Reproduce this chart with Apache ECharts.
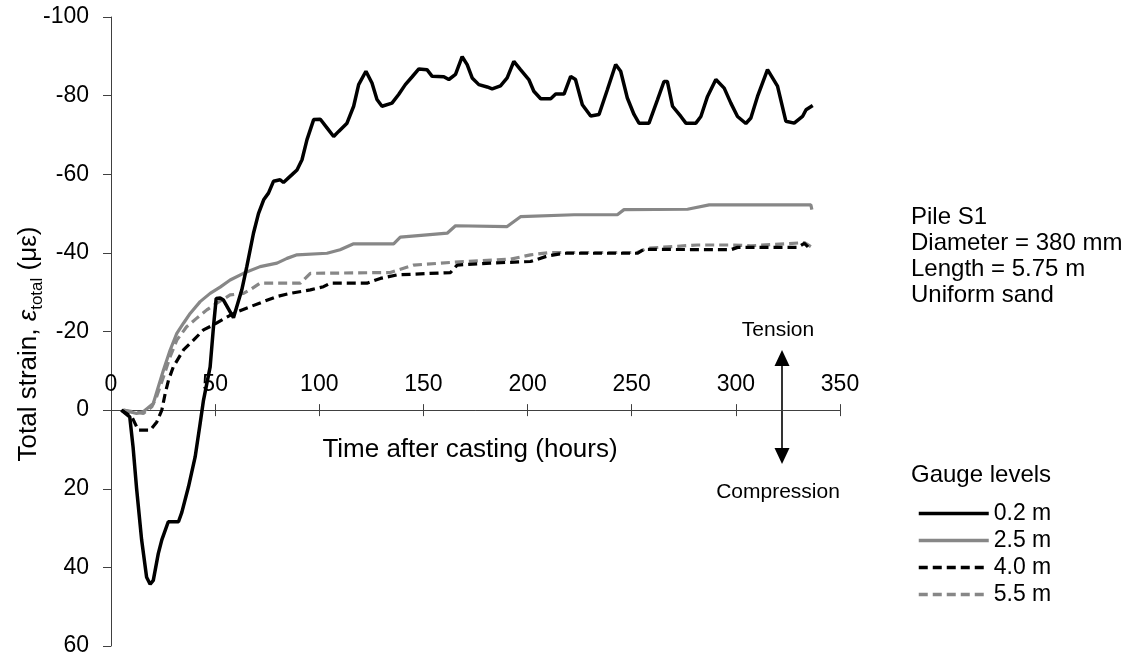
<!DOCTYPE html>
<html>
<head>
<meta charset="utf-8">
<script src="https://cdn.jsdelivr.net/npm/echarts@6/dist/echarts.min.js"></script>
<style>
html,body{margin:0;padding:0;background:#fff;}
#chart{width:1131px;height:659px;}
</style>
</head>
<body>
<div id="chart"></div>
<script>
// ---- data (time in hours, total strain in microstrain; negative = tension) ----
const seriesNames = ['0.2 m', '2.5 m', '4.0 m', '5.5 m'];
const xTicks = [0, 50, 100, 150, 200, 250, 300, 350];
const yTicks = [-100, -80, -60, -40, -20, 0, 20, 40, 60];

const gauge02 = [
[5,0],[9,1.7],[10.6,9.4],[12.3,20],[14.7,33],[17.1,42.5],[18.8,44.3],[20.3,43.3],[22.7,36.5],[24.4,33],
[27.5,28.4],[32.4,28.4],[34,26],[37.2,19.5],[40.4,11.9],[42.8,3.4],[44.4,-2.5],[47.6,-11],[49.2,-21.2],[50.5,-28.4],
[52.4,-28.5],[54,-28],[57.2,-25],[58.8,-23.5],[62.8,-30.6],[65.2,-36.5],[68.4,-45],[70.8,-50],[73.3,-53.5],[75.6,-55.2],
[78,-58.2],[81.2,-58.6],[82.8,-57.9],[86.9,-59.9],[89.3,-61.1],[91.7,-63.7],[94.1,-68.8],[97.3,-73.9],[100.5,-74],[103.7,-71.8],
[106.9,-69.6],[109.3,-70.9],[113.3,-73],[116.5,-77.3],[118.9,-82.8],[122.4,-86.2],[125.3,-83.2],[127.7,-79],[130.1,-77.3],[134.9,-78.1],
[138.1,-80.3],[141.3,-82.8],[144.6,-84.8],[147.8,-86.8],[151.7,-86.6],[154.2,-84.9],[159.8,-84.8],[162.2,-84.1],[165.4,-85.4],[168.6,-89.9],
[171,-87.9],[173.4,-84.5],[176.6,-82.8],[180.6,-82.2],[183,-81.7],[187,-82.5],[190.2,-84.5],[193.4,-88.7],[196.6,-86.6],[200.6,-84.1],
[203,-81.1],[206.3,-79.2],[211.1,-79.2],[213.5,-80.4],[217.5,-80.4],[220.7,-84.9],[223,-84.1],[226.3,-77.7],[230.3,-74.8],[234.3,-75.2],
[238.3,-81.5],[242.3,-87.9],[244.7,-86.2],[247.9,-79.4],[251.1,-75.2],[253.5,-73],[258.3,-73],[262.4,-79],[265.5,-83.6],[267.1,-83.6],
[269.6,-77.3],[273.6,-74.7],[276,-73],[280.8,-73],[283.2,-74.7],[286.4,-79.8],[290.4,-84.1],[294.4,-81.9],[297.6,-78.1],[300.8,-74.7],
[304.8,-72.9],[307.2,-74.3],[310.4,-79.8],[315.2,-86.6],[320,-82.4],[324,-73.5],[328,-73],[332,-74.7],[333.7,-76.4],[336.9,-77.5]
];
const gauge25 = [
[5.9,0],[12.3,0.85],[15.5,0.4],[20.3,-1.7],[22.7,-5.9],[25.2,-10.2],[28.4,-15.3],[31.6,-19.5],[34.8,-22.1],[38,-24.6],
[42.8,-27.6],[47.6,-29.7],[52.4,-31.3],[57.2,-33.1],[63.6,-34.8],[71.6,-36.5],[79.7,-37.4],[84.5,-38.6],[89.3,-39.5],[103.7,-39.9],
[110,-40.8],[116.5,-42.3],[135.7,-42.3],[138.9,-44],[151.7,-44.6],[161.4,-45],[165.4,-46.9],[190.2,-46.7],[196.6,-49.2],[222.3,-49.7],
[243.1,-49.7],[246.3,-51],[276.8,-51.1],[287.2,-52.2],[336,-52.2],[336.5,-51]
];
const gauge40 = [
[5,0],[10,1.7],[13.1,5.1],[18.8,5.1],[22,3],[24.4,0],[26,-4.2],[27.6,-7.6],[29.9,-11],[34.8,-15.3],
[39.6,-17.8],[44.4,-20.4],[49.2,-21.7],[54.8,-23.4],[60.4,-25],[66.8,-26.3],[73.2,-27.6],[79.7,-28.9],[86.1,-29.7],[95.7,-30.6],
[102,-31.4],[105.3,-32.3],[122.9,-32.3],[129.3,-33.5],[137.3,-34.4],[163,-35],[166.2,-36.9],[182.2,-37.4],[201.4,-37.8],[209.5,-39.2],
[217.5,-39.9],[252.7,-39.9],[255.9,-40.9],[297.6,-40.8],[300.8,-41.4],[329.7,-41.4],[332.9,-42.4],[336,-40.8]
];
const gauge55 = [
[5.9,0],[15.5,0.85],[19.6,-0.85],[21.9,-3.4],[25.2,-8.5],[28.4,-13.6],[31.6,-17.8],[36.3,-21.2],[41.2,-23.4],[46,-25.5],
[50.8,-27.2],[57.2,-29.3],[63.6,-29.7],[66.8,-30.6],[71.6,-32.3],[90.9,-32.3],[95.7,-34.8],[134.1,-35],[145.3,-36.9],[169.4,-37.8],
[191.8,-38.4],[201.4,-39.5],[211.1,-40.1],[252.7,-40.1],[257.5,-41.2],[281.6,-42],[297.6,-42],[307.2,-41.8],[332.9,-42.6],[336,-41.6]
];

const FONT = '"Liberation Sans", Arial, Helvetica, sans-serif';
const AX = '#404040';
const GRAY = '#878787';

// plot area layout
const PLOT_LEFT = 111, PLOT_RIGHT = 291, PLOT_TOP = 17, PLOT_H = 629;
const yMin = yTicks[0], yMax = yTicks[yTicks.length - 1];
// pixel row of the zero line (where the time axis sits) from the y scale
const zeroY = PLOT_TOP + PLOT_H * (0 - yMin) / (yMax - yMin);

const chart = echarts.init(document.getElementById('chart'), null, {renderer: 'canvas'});

const xBase = {
  type: 'value', min: xTicks[0], max: xTicks[xTicks.length - 1], interval: xTicks[1] - xTicks[0],
  splitLine: {show: false},
  axisLine: {show: true, onZero: false, lineStyle: {color: AX, width: 1}},
  axisTick: {show: true, length: 6, lineStyle: {color: AX, width: 1}}
};

function lineSeries(name, data, color, dashed, z, width) {
  return {
    name: name, type: 'line', data: data, xAxisIndex: 0, yAxisIndex: 0,
    symbol: 'none', showSymbol: false, smooth: false, z: z,
    lineStyle: {color: color, width: width, type: dashed ? [9, 5] : 'solid'},
    itemStyle: {color: color},
    emphasis: {disabled: true},
    animation: false
  };
}

chart.setOption({
  backgroundColor: '#ffffff',
  animation: false,
  grid: [
    {left: PLOT_LEFT, right: PLOT_RIGHT, top: PLOT_TOP, height: PLOT_H, containLabel: false, outerBoundsMode: 'none'},
    {left: PLOT_LEFT, right: PLOT_RIGHT, top: zeroY, height: 50, containLabel: false, outerBoundsMode: 'none'}
  ],
  xAxis: [
    Object.assign({}, xBase, {gridIndex: 0, position: 'bottom',
      axisLine: {show: true, onZero: true, lineStyle: {color: AX, width: 1}},
      axisLabel: {show: false}}),
    Object.assign({}, xBase, {gridIndex: 1, position: 'top',
      axisLabel: {show: true, margin: 14, fontSize: 23, fontFamily: FONT, color: '#000'}})
  ],
  yAxis: [{
    gridIndex: 0,
    type: 'value', inverse: true, min: yMin, max: yMax, interval: yTicks[1] - yTicks[0],
    splitLine: {show: false},
    axisLine: {show: true, onZero: false, lineStyle: {color: AX, width: 1}},
    axisTick: {show: true, length: 8, lineStyle: {color: AX, width: 1}},
    axisLabel: {margin: 22, fontSize: 23, fontFamily: FONT, color: '#000'}
  }, {
    gridIndex: 1, type: 'value', show: false, min: 0, max: 1
  }],
  legend: {
    data: seriesNames, orient: 'vertical', left: 917, top: 502, padding: 0,
    itemWidth: 70, itemHeight: 14, itemGap: 4,
    itemStyle: {opacity: 0},
    lineStyle: {width: 3.5},
    textStyle: {fontSize: 23, fontFamily: FONT, color: '#000'},
    selectedMode: false
  },
  series: [
    lineSeries(seriesNames[0], gauge02, '#000000', false, 6, 3.5),
    lineSeries(seriesNames[1], gauge25, GRAY, false, 3, 3.2),
    lineSeries(seriesNames[2], gauge40, '#000000', true, 4, 3.2),
    lineSeries(seriesNames[3], gauge55, GRAY, true, 2, 3.2)
  ],
  graphic: [
    {type: 'text', x: 29, y: 344, rotation: Math.PI / 2, silent: true,
      style: {
        text: '{a|Total strain, }{e|ε}{s|total}{a| (με)}',
        align: 'center', verticalAlign: 'middle', fill: '#000',
        rich: {
          a: {fontSize: 26, fontFamily: FONT, lineHeight: 34, verticalAlign: 'middle', fill: '#000'},
          e: {fontSize: 26, fontFamily: FONT, fontStyle: 'italic', lineHeight: 34, verticalAlign: 'middle', fill: '#000'},
          s: {fontSize: 17, fontFamily: FONT, lineHeight: 17, verticalAlign: 'bottom', fill: '#000'}
        }
      }},
    {type: 'text', x: 470, y: 450, silent: true,
      style: {text: 'Time after casting (hours)', font: '26px ' + FONT, fill: '#000', align: 'center', verticalAlign: 'middle'}},
    {type: 'text', x: 911, y: 217, silent: true,
      style: {text: 'Pile S1', font: '24px ' + FONT, fill: '#000', align: 'left', verticalAlign: 'middle'}},
    {type: 'text', x: 911, y: 243, silent: true,
      style: {text: 'Diameter = 380 mm', font: '24px ' + FONT, fill: '#000', align: 'left', verticalAlign: 'middle'}},
    {type: 'text', x: 911, y: 269, silent: true,
      style: {text: 'Length = 5.75 m', font: '24px ' + FONT, fill: '#000', align: 'left', verticalAlign: 'middle'}},
    {type: 'text', x: 911, y: 295, silent: true,
      style: {text: 'Uniform sand', font: '24px ' + FONT, fill: '#000', align: 'left', verticalAlign: 'middle'}},
    {type: 'text', x: 911, y: 475, silent: true,
      style: {text: 'Gauge levels', font: '24px ' + FONT, fill: '#000', align: 'left', verticalAlign: 'middle'}},
    {type: 'text', x: 778, y: 330, silent: true,
      style: {text: 'Tension', font: '21px ' + FONT, fill: '#000', align: 'center', verticalAlign: 'middle'}},
    {type: 'text', x: 778, y: 492, silent: true,
      style: {text: 'Compression', font: '21px ' + FONT, fill: '#000', align: 'center', verticalAlign: 'middle'}},
    {type: 'line', silent: true, shape: {x1: 782, y1: 362, x2: 782, y2: 452},
      style: {stroke: '#000', lineWidth: 1.6}},
    {type: 'polygon', silent: true, shape: {points: [[782, 350], [774.5, 366], [789.5, 366]]},
      style: {fill: '#000'}},
    {type: 'polygon', silent: true, shape: {points: [[782, 464], [774.5, 448], [789.5, 448]]},
      style: {fill: '#000'}}
  ]
});
</script>
</body>
</html>
